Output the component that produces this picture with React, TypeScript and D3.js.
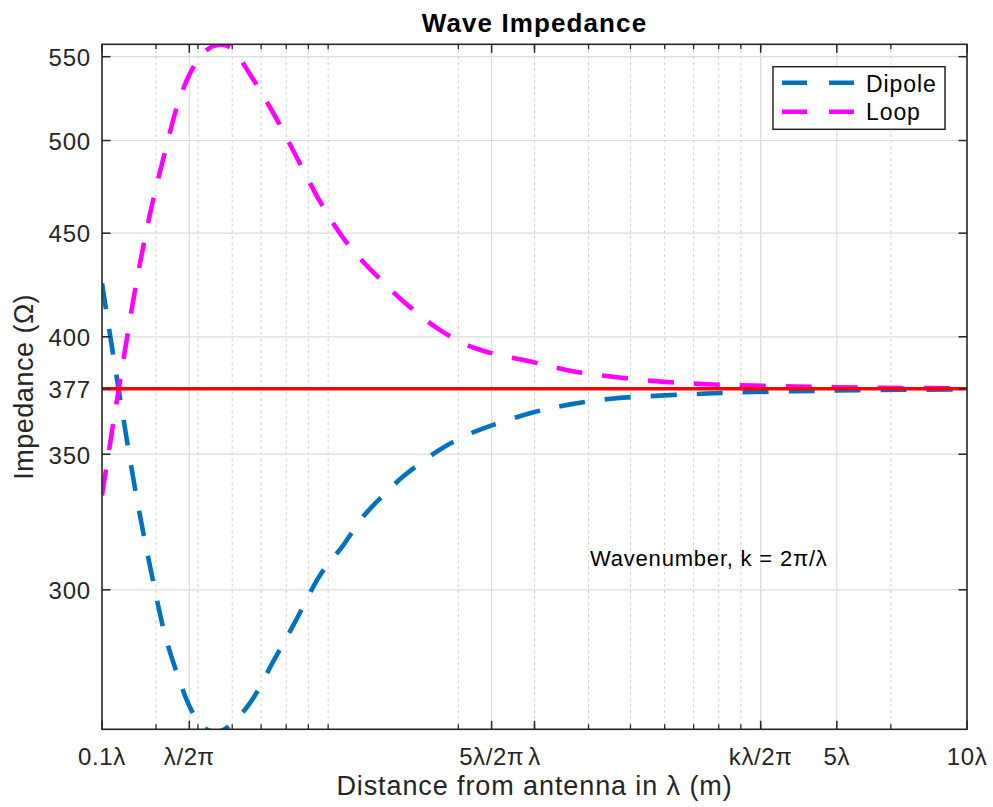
import React from 'react';
import * as d3 from 'd3';

// Distance from the antenna, in wavelengths (lambda = 3 m)
const distanceLambda = [0.1, 0.11, 0.12, 0.13, 0.14, 0.15, 0.16, 0.17, 0.18, 0.19, 0.2, 0.22, 0.25, 0.28, 0.32, 0.36, 0.4, 0.45, 0.5, 0.6, 0.7, 0.8, 1.0, 1.2, 1.5, 2, 2.5, 3, 4, 5, 7, 10];
const dipoleOhm = [425, 373.5, 334, 306, 284.8, 271.8, 262.3, 257, 255.3, 255.7, 257.8, 263.8, 277, 289.4, 305.3, 315.3, 325.7, 334.5, 341.6, 351.5, 357.8, 361.8, 367.2, 370.3, 372.8, 374.2, 375, 375.5, 376, 376.3, 376.6, 376.8];
const loopOhm = [334, 380, 425, 463, 494, 521.7, 540, 551, 556.5, 557.5, 555, 539, 515, 492, 466, 448, 436, 425, 416, 403.5, 396.2, 392.5, 388.5, 385, 382.3, 380, 379, 378.5, 378, 377.7, 377.4, 377.2];

const freeSpaceOhm = 377;
const lambdaMeters = 3;
const xTickValues = [0.1, 1 / (2 * Math.PI), 5 / (2 * Math.PI), 1, 10 / 3, 5, 10];
const xTickLabels = ['0.1λ', 'λ/2π', '5λ/2π', 'λ', 'kλ/2π', '5λ', '10λ'];
const xMajorGrid = [1 / (2 * Math.PI), 5 / (2 * Math.PI), 10 / 3, 5];
const minorMeters = [0.4, 0.5, 0.6, 0.7, 0.8, 0.9, 1, 2, 3, 4, 5, 6, 7, 8, 9, 10, 20];
const yTickValues = [300, 350, 377, 400, 450, 500, 550];
const yDomain = [256, 557.8];

const W = 993;
const H = 807;
const L = 102, R = 967, T = 44.3, B = 729.3;
const FONT = '"Liberation Sans", Arial, Helvetica, sans-serif';
const AX = '#262626';

export default function App() {
  const x = d3.scaleLog().domain([0.1, 10]).range([L, R]);
  const y = d3.scaleLog().domain(yDomain).range([B, T]);

  const line = d3
    .line<number>()
    .x((_, i) => x(distanceLambda[i]))
    .y((d) => y(d))
    .curve(d3.curveCatmullRom.alpha(0.5));

  const minorLambda = minorMeters.map((m) => m / lambdaMeters);
  const dash = '26 20';

  return (
    <svg width={W} height={H} style={{ position: 'absolute', left: 0, top: 0, background: '#fff' }} fontFamily={FONT}>
      <rect x={0} y={0} width={W} height={H} fill="#fff" />
      <defs>
        <clipPath id="plotclip">
          <rect x={L} y={T} width={R - L} height={B - T} />
        </clipPath>
      </defs>
      {/* minor x grid (dotted) */}
      {minorLambda.map((v, i) => (
        <line key={'mg' + i} x1={x(v)} x2={x(v)} y1={T} y2={B} stroke="#c9c9c9" strokeWidth={1} strokeDasharray="2.5 3.5" />
      ))}
      {/* major x grid */}
      {xMajorGrid.map((v, i) => (
        <line key={'xg' + i} x1={x(v)} x2={x(v)} y1={T} y2={B} stroke="#dcdcdc" strokeWidth={1.2} />
      ))}
      {/* y grid */}
      {yTickValues.map((v, i) => (
        <line key={'yg' + i} x1={L} x2={R} y1={y(v)} y2={y(v)} stroke="#dcdcdc" strokeWidth={1.2} />
      ))}

      {/* curves */}
      <g clipPath="url(#plotclip)">
        <path d={line(dipoleOhm) || ''} fill="none" stroke="#0072BD" strokeWidth={4.6} strokeDasharray={dash} />
        <path d={line(loopOhm) || ''} fill="none" stroke="#FF00FF" strokeWidth={4.6} strokeDasharray={dash} />
        <line x1={L} x2={R} y1={y(freeSpaceOhm)} y2={y(freeSpaceOhm)} stroke="#FF0000" strokeWidth={3.5} />
      </g>

      {/* axes box */}
      <rect x={L} y={T} width={R - L} height={B - T} fill="none" stroke={AX} strokeWidth={1.6} />

      {/* x ticks */}
      {minorLambda.map((v, i) => (
        <g key={'mt' + i}>
          <line x1={x(v)} x2={x(v)} y1={B} y2={B - 5} stroke={AX} strokeWidth={1.3} />
          <line x1={x(v)} x2={x(v)} y1={T} y2={T + 5} stroke={AX} strokeWidth={1.3} />
        </g>
      ))}
      {xTickValues.map((v, i) => (
        <g key={'xt' + i}>
          <line x1={x(v)} x2={x(v)} y1={B} y2={B - 8.5} stroke={AX} strokeWidth={1.5} />
          <line x1={x(v)} x2={x(v)} y1={T} y2={T + 8.5} stroke={AX} strokeWidth={1.5} />
          <text x={x(v)} y={765} textAnchor="middle" fontSize={24} fill={AX} letterSpacing={0.6}>
            {xTickLabels[i]}
          </text>
        </g>
      ))}

      {/* y ticks */}
      {yTickValues.map((v, i) => (
        <g key={'yt' + i}>
          <line x1={L} x2={L + 8.5} y1={y(v)} y2={y(v)} stroke={AX} strokeWidth={1.5} />
          <line x1={R} x2={R - 8.5} y1={y(v)} y2={y(v)} stroke={AX} strokeWidth={1.5} />
          <text x={91} y={y(v) + 9.3} textAnchor="end" fontSize={24} fill={AX} letterSpacing={0.8}>
            {v}
          </text>
        </g>
      ))}

      {/* annotation */}
      <text x={590} y={566} fontSize={22} fill="#000" letterSpacing={0.8}>
        Wavenumber, k = 2π/λ
      </text>

      {/* title and labels */}
      <text x={(L + R) / 2} y={32} textAnchor="middle" fontSize={26} fontWeight="bold" fill="#000" letterSpacing={1.1}>
        Wave Impedance
      </text>
      <text x={(L + R) / 2} y={795} textAnchor="middle" fontSize={27} fill={AX} letterSpacing={0.9}>
        Distance from antenna in λ (m)
      </text>
      <text transform={`translate(33, ${(T + B) / 2}) rotate(-90)`} textAnchor="middle" fontSize={27} fill={AX} letterSpacing={0.5}>
        Impedance (Ω)
      </text>

      {/* legend */}
      <g>
        <rect x={773} y={66.7} width={172} height={62.6} fill="#fff" stroke={AX} strokeWidth={1.5} />
        <line x1={782} x2={855} y1={82.7} y2={82.7} stroke="#0072BD" strokeWidth={4.6} strokeDasharray="25 22" />
        <line x1={782} x2={855} y1={111.7} y2={111.7} stroke="#FF00FF" strokeWidth={4.6} strokeDasharray="25 22" />
        <text x={866} y={91.7} fontSize={23} fill="#000" letterSpacing={0.9}>Dipole</text>
        <text x={866} y={120} fontSize={23} fill="#000" letterSpacing={0.9}>Loop</text>
      </g>
    </svg>
  );
}
